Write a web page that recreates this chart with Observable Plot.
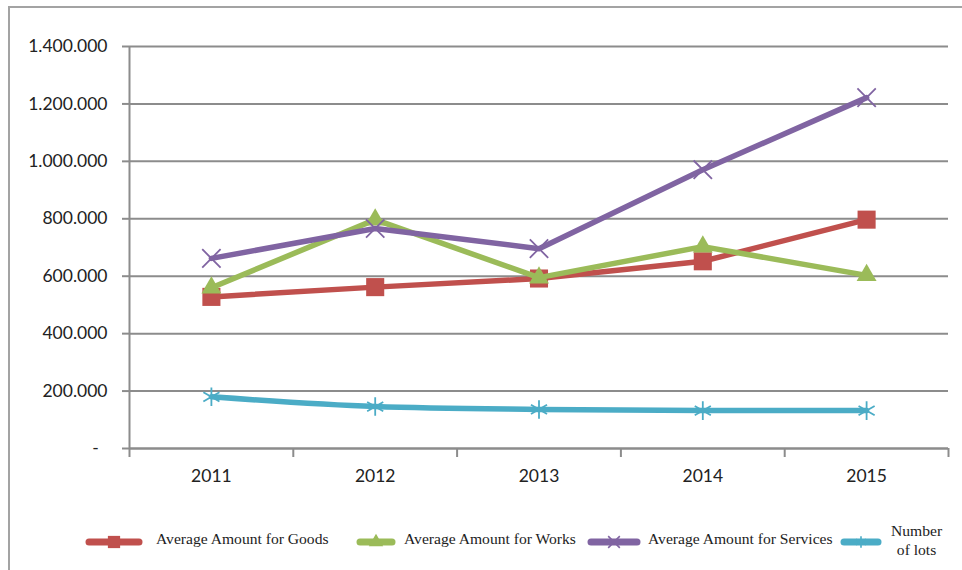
<!DOCTYPE html>
<html>
<head>
<meta charset="utf-8">
<script src="https://cdn.jsdelivr.net/npm/d3@7"></script>
<script src="https://cdn.jsdelivr.net/npm/@observablehq/plot@0.6"></script>
<style>
  html, body { margin: 0; padding: 0; background: #fff; width: 962px; height: 570px; overflow: hidden; }
  #frame { position: absolute; left: 8px; top: 6px; width: 1000px; height: 620px; border: 2px solid #a3a3a3; box-sizing: border-box; }
  #chart { position: absolute; left: 0; top: 0; }
  #legend { position: absolute; left: 0; top: 520px; width: 962px; height: 45px; font-family: "Liberation Serif", "DejaVu Serif", serif; font-size: 15.6px; color: #222; }
  .lab { position: absolute; top: 10px; white-space: nowrap; }
</style>
</head>
<body>
<div id="frame"></div>
<div id="chart"></div>
<div id="legend"></div>
<script>
// ---- data ----
const years = [2011, 2012, 2013, 2014, 2015];
const goods = [528000, 562000, 592000, 652000, 797000];
const works = [560000, 797000, 595000, 703000, 603000];
const services = [662000, 766000, 696000, 971000, 1222000];
const lots = [180000, 146000, 136000, 132000, 132000];
const yTicks = [0, 200000, 400000, 600000, 800000, 1000000, 1200000, 1400000];
const bandEdges = [2010.5, 2011.5, 2012.5, 2013.5, 2014.5, 2015.5];
const seriesNames = ["Average Amount for Goods", "Average Amount for Works", "Average Amount for Services", "Number of lots"];
const colors = ["#C0504D", "#9BBB59", "#8064A2", "#4BACC6"];

const grid = "#8c8c8c";
const fmt = d => d === 0 ? "-\u2002" : d3.format(",")(d).replace(/,/g, ".");
const rows = v => years.map((y, i) => ({year: y, value: v[i]}));

const lineOpts = (c, extra = {}) => ({x: "year", y: "value", stroke: c, strokeWidth: 5.5, ...extra});

const chart = Plot.plot({
  width: 962,
  height: 500,
  marginLeft: 129,
  marginRight: 14,
  marginTop: 46,
  marginBottom: 52,
  style: {fontFamily: "Lato, 'Open Sans', sans-serif", fontSize: "17.5px", color: "#222", background: "transparent"},
  x: {domain: [2010.5, 2015.5]},
  y: {domain: [0, 1400000]},
  marks: [
    Plot.gridY(yTicks, {stroke: grid, strokeOpacity: 1, strokeWidth: 2}),
    Plot.axisY(yTicks, {tickFormat: fmt, tickSize: 7, tickPadding: 15, stroke: grid, strokeWidth: 2, label: null, fill: "#222"}),
    Plot.axisX(bandEdges, {tickSize: 9, tickFormat: () => "", stroke: grid, strokeWidth: 2, label: null}),
    Plot.axisX(years, {tickSize: 0, tickPadding: 21, tickFormat: d => String(d), label: null, fill: "#222"}),
    Plot.ruleX([bandEdges[0]], {stroke: grid, strokeWidth: 2, y1: 0, y2: 1400000}),
    Plot.ruleY([0], {stroke: grid, strokeWidth: 2}),
    // Goods
    Plot.line(rows(goods), lineOpts(colors[0])),
    Plot.dot(rows(goods), {x: "year", y: "value", symbol: "square", r: 10.2, fill: colors[0], stroke: "none"}),
    // Works
    Plot.line(rows(works), lineOpts(colors[1])),
    Plot.dot(rows(works), {x: "year", y: "value", symbol: "triangle", r: 7.4, fill: colors[1], stroke: "none"}),
    // Services
    Plot.line(rows(services), lineOpts(colors[2])),
    Plot.dot(rows(services), {x: "year", y: "value", symbol: "times", r: 8.4, stroke: colors[2], strokeWidth: 1.8, fill: "none"}),
    // Lots
    Plot.line(rows(lots), lineOpts(colors[3], {curve: "monotone-x"})),
    Plot.dot(rows(lots), {x: "year", y: "value", symbol: "asterisk", r: 8.8, stroke: colors[3], strokeWidth: 1.8, fill: "none"})
  ]
});
document.getElementById("chart").appendChild(chart);

// ---- legend ----
const legend = document.getElementById("legend");
const legendLayout = [
  {sx: 89, sw: 50, tx: 156, sym: "square"},
  {sx: 360, sw: 32, tx: 404, sym: "triangle"},
  {sx: 591, sw: 46, tx: 648, sym: "times"},
  {sx: 844, sw: 34, tx: 891, sym: "asterisk"}
];
legendLayout.forEach((L, i) => {
  const c = colors[i];
  const svg = d3.create("svg").attr("width", L.sw + 20).attr("height", 30)
    .style("position", "absolute").style("left", (L.sx - 10) + "px").style("top", "7px");
  const cx = 10 + L.sw / 2, cy = 15;
  svg.append("line").attr("x1", 10).attr("x2", 10 + L.sw).attr("y1", cy).attr("y2", cy)
    .attr("stroke", c).attr("stroke-width", 7).attr("stroke-linecap", "round");
  const symMap = {square: d3.symbolSquare, triangle: d3.symbolTriangle, times: d3.symbolTimes, asterisk: d3.symbolAsterisk};
  const size = L.sym === "square" ? 150 : 90;
  const p = svg.append("path").attr("transform", `translate(${cx},${cy})`).attr("d", d3.symbol(symMap[L.sym], size)());
  if (L.sym === "square" || L.sym === "triangle") p.attr("fill", c);
  else p.attr("fill", "none").attr("stroke", c).attr("stroke-width", 1.6);
  legend.appendChild(svg.node());
  const lab = document.createElement("div");
  lab.className = "lab";
  lab.style.left = L.tx + "px";
  if (i === 3) {
    lab.style.top = "1px";
    lab.style.textAlign = "center";
    lab.style.lineHeight = "19px";
    lab.innerHTML = "Number<br>of lots";
  } else {
    lab.textContent = seriesNames[i];
  }
  legend.appendChild(lab);
});
</script>
</body>
</html>
